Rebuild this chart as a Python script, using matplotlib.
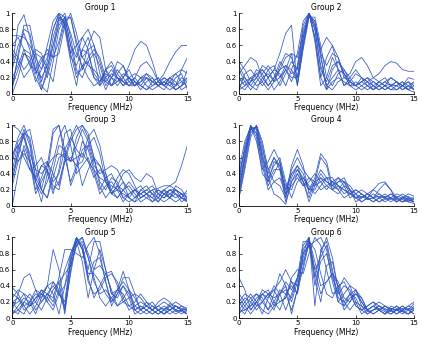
import numpy as np
import matplotlib
matplotlib.use('Agg')
import matplotlib.pyplot as plt

# frequency samples (MHz)
freq = np.arange(0, 15.01, 0.5)

# normalised spectra, one list per trace
group1 = [
    [0.35,0.85,0.98,0.7,0.3,0.05,0.3,0.7,0.95,0.9,0.5,0.2,0.35,0.4,0.2,0.1,0.2,0.3,0.2,0.1,0.15,0.2,0.1,0.05,0.1,0.15,0.1,0.05,0.1,0.2,0.15],
    [0.1,0.3,0.5,0.4,0.15,0.3,0.6,0.9,1.0,0.95,0.6,0.25,0.3,0.6,0.78,0.7,0.3,0.1,0.25,0.35,0.2,0.1,0.15,0.2,0.15,0.1,0.15,0.2,0.1,0.15,0.2],
    [0.05,0.5,0.85,0.85,0.5,0.15,0.4,0.8,0.98,0.85,0.45,0.35,0.55,0.5,0.25,0.15,0.3,0.35,0.2,0.1,0.2,0.25,0.2,0.1,0.05,0.1,0.2,0.15,0.1,0.3,0.45],
    [0.72,0.72,0.7,0.6,0.45,0.3,0.45,0.8,1.0,0.85,0.5,0.6,0.7,0.55,0.2,0.15,0.3,0.2,0.15,0.2,0.3,0.15,0.1,0.2,0.15,0.2,0.1,0.15,0.05,0.1,0.2],
    [0.5,0.4,0.2,0.3,0.5,0.45,0.2,0.5,0.9,1.0,0.7,0.3,0.2,0.4,0.5,0.35,0.1,0.2,0.3,0.2,0.1,0.2,0.35,0.4,0.3,0.15,0.25,0.4,0.52,0.6,0.6],
    [0.2,0.35,0.55,0.5,0.3,0.2,0.35,0.6,0.85,0.95,0.75,0.5,0.35,0.2,0.1,0.15,0.25,0.2,0.1,0.2,0.35,0.55,0.65,0.6,0.4,0.15,0.1,0.2,0.25,0.15,0.1],
    [0.1,0.45,0.8,0.75,0.4,0.1,0.02,0.4,0.8,0.95,0.6,0.45,0.7,0.8,0.6,0.25,0.05,0.2,0.4,0.35,0.15,0.1,0.2,0.25,0.15,0.1,0.15,0.1,0.05,0.1,0.15],
    [0.6,0.7,0.55,0.35,0.3,0.45,0.5,0.45,0.65,0.95,0.95,0.65,0.45,0.35,0.3,0.2,0.15,0.25,0.2,0.15,0.1,0.1,0.2,0.2,0.1,0.15,0.2,0.15,0.05,0.1,0.3],
    [0.3,0.6,0.75,0.55,0.25,0.4,0.55,0.45,0.5,0.85,1.0,0.75,0.45,0.55,0.6,0.4,0.15,0.1,0.2,0.15,0.1,0.15,0.1,0.05,0.15,0.2,0.1,0.2,0.15,0.05,0.1],
    [0.0,0.2,0.5,0.45,0.2,0.05,0.25,0.6,0.95,0.8,0.4,0.1,0.55,0.7,0.45,0.1,0.3,0.4,0.25,0.15,0.2,0.15,0.05,0.15,0.2,0.1,0.15,0.1,0.2,0.25,0.05],
    [0.55,0.45,0.3,0.4,0.55,0.5,0.3,0.15,0.6,0.9,0.95,0.6,0.3,0.45,0.55,0.45,0.2,0.1,0.15,0.25,0.2,0.1,0.15,0.25,0.2,0.1,0.05,0.15,0.25,0.3,0.25],
]

group2 = [
    [0.35,0.2,0.1,0.2,0.3,0.2,0.3,0.5,0.75,0.85,0.1,0.6,1.0,0.7,0.2,0.45,0.6,0.45,0.2,0.25,0.4,0.45,0.35,0.2,0.25,0.35,0.4,0.38,0.3,0.28,0.28],
    [0.25,0.35,0.45,0.4,0.2,0.1,0.2,0.3,0.35,0.25,0.3,0.8,0.98,0.8,0.35,0.1,0.2,0.3,0.25,0.15,0.1,0.15,0.2,0.15,0.1,0.05,0.1,0.15,0.1,0.05,0.1],
    [0.1,0.15,0.2,0.1,0.15,0.3,0.35,0.2,0.3,0.5,0.45,0.75,1.0,0.85,0.55,0.7,0.6,0.3,0.1,0.15,0.25,0.2,0.1,0.05,0.1,0.15,0.1,0.05,0.1,0.15,0.05],
    [0.05,0.1,0.2,0.25,0.15,0.05,0.15,0.35,0.5,0.45,0.2,0.65,0.98,0.9,0.5,0.05,0.3,0.4,0.3,0.15,0.1,0.15,0.1,0.05,0.15,0.2,0.1,0.1,0.15,0.05,0.15],
    [0.3,0.15,0.05,0.15,0.25,0.35,0.25,0.1,0.25,0.4,0.3,0.7,1.0,0.8,0.3,0.15,0.35,0.4,0.25,0.1,0.15,0.1,0.05,0.1,0.15,0.1,0.05,0.1,0.15,0.1,0.05],
    [0.15,0.2,0.1,0.05,0.2,0.25,0.15,0.3,0.45,0.5,0.1,0.55,0.95,0.95,0.6,0.2,0.1,0.25,0.3,0.2,0.1,0.05,0.1,0.15,0.1,0.05,0.1,0.15,0.1,0.2,0.18],
    [0.2,0.1,0.15,0.3,0.25,0.1,0.2,0.4,0.3,0.15,0.35,0.85,1.0,0.65,0.1,0.2,0.45,0.3,0.1,0.2,0.3,0.2,0.15,0.2,0.15,0.1,0.2,0.15,0.1,0.15,0.1],
    [0.05,0.25,0.3,0.2,0.1,0.2,0.3,0.25,0.1,0.3,0.5,0.9,1.0,0.7,0.2,0.05,0.15,0.2,0.15,0.1,0.05,0.1,0.15,0.1,0.05,0.1,0.05,0.05,0.1,0.05,0.02],
    [0.4,0.3,0.15,0.2,0.35,0.3,0.15,0.2,0.35,0.3,0.15,0.6,0.98,0.9,0.5,0.35,0.5,0.45,0.25,0.1,0.1,0.2,0.15,0.05,0.1,0.15,0.2,0.15,0.05,0.1,0.15],
    [0.1,0.05,0.15,0.25,0.3,0.2,0.05,0.15,0.3,0.2,0.2,0.7,1.0,0.85,0.45,0.1,0.05,0.15,0.2,0.15,0.1,0.15,0.2,0.1,0.05,0.1,0.12,0.1,0.05,0.1,0.05],
]

group3 = [
    [1.0,0.95,0.85,0.65,0.45,0.4,0.5,0.6,0.65,0.6,0.55,0.6,0.65,0.55,0.45,0.35,0.3,0.25,0.2,0.15,0.1,0.05,0.1,0.15,0.2,0.22,0.25,0.25,0.3,0.5,0.75],
    [0.6,0.85,1.0,0.8,0.35,0.2,0.5,0.95,1.0,0.6,0.3,0.5,0.8,0.7,0.45,0.2,0.35,0.4,0.25,0.1,0.15,0.2,0.15,0.1,0.05,0.1,0.2,0.15,0.1,0.15,0.1],
    [0.3,0.7,0.95,0.75,0.3,0.15,0.3,0.55,0.85,1.0,0.75,0.4,0.5,0.6,0.4,0.15,0.25,0.3,0.2,0.05,0.15,0.2,0.15,0.2,0.25,0.15,0.1,0.2,0.2,0.15,0.05],
    [0.55,0.8,0.9,0.6,0.2,0.35,0.55,0.4,0.25,0.6,0.85,1.0,0.85,0.55,0.35,0.45,0.4,0.2,0.1,0.2,0.3,0.2,0.1,0.15,0.1,0.05,0.15,0.2,0.15,0.1,0.08],
    [0.0,0.4,0.75,0.55,0.15,0.3,0.45,0.25,0.2,0.55,0.8,0.95,1.0,0.85,0.6,0.3,0.2,0.35,0.3,0.1,0.05,0.1,0.2,0.15,0.05,0.15,0.2,0.1,0.05,0.1,0.2],
    [0.45,0.75,0.85,0.55,0.3,0.5,0.55,0.3,0.4,0.7,0.85,0.7,0.6,0.85,0.95,0.75,0.4,0.15,0.2,0.3,0.2,0.1,0.15,0.2,0.15,0.1,0.2,0.25,0.2,0.1,0.05],
    [0.6,0.55,0.65,0.55,0.3,0.05,0.4,0.9,1.0,0.7,0.25,0.45,0.7,0.75,0.5,0.4,0.45,0.5,0.45,0.3,0.1,0.05,0.2,0.25,0.15,0.05,0.15,0.2,0.15,0.05,0.1],
    [0.35,0.6,0.9,0.85,0.45,0.2,0.1,0.35,0.6,0.65,0.55,0.85,1.0,0.9,0.6,0.25,0.1,0.2,0.35,0.45,0.4,0.25,0.1,0.15,0.2,0.1,0.05,0.1,0.15,0.1,0.05],
    [0.25,0.55,0.7,0.45,0.35,0.5,0.45,0.2,0.3,0.55,0.6,0.5,0.55,0.75,0.85,0.65,0.3,0.15,0.25,0.4,0.45,0.35,0.3,0.4,0.35,0.15,0.1,0.15,0.2,0.15,0.1],
    [0.65,0.75,0.6,0.45,0.5,0.6,0.4,0.15,0.45,0.9,0.95,0.6,0.25,0.45,0.6,0.5,0.3,0.15,0.25,0.2,0.1,0.2,0.25,0.15,0.1,0.2,0.15,0.1,0.25,0.2,0.1],
    [0.4,0.65,0.9,0.95,0.6,0.2,0.1,0.45,0.75,0.7,0.55,0.75,0.95,0.8,0.55,0.5,0.35,0.15,0.1,0.2,0.25,0.15,0.05,0.1,0.15,0.2,0.15,0.1,0.2,0.15,0.15],
]

group4 = [
    [0.2,0.6,0.95,0.98,0.7,0.45,0.6,0.5,0.2,0.4,0.45,0.3,0.2,0.3,0.35,0.25,0.2,0.25,0.2,0.15,0.1,0.1,0.15,0.1,0.05,0.08,0.1,0.08,0.05,0.07,0.05],
    [0.35,0.7,1.0,0.9,0.5,0.2,0.3,0.25,0.1,0.5,0.7,0.5,0.15,0.3,0.6,0.5,0.2,0.15,0.25,0.2,0.1,0.15,0.1,0.05,0.1,0.12,0.1,0.05,0.1,0.08,0.05],
    [0.1,0.5,0.9,1.0,0.75,0.35,0.15,0.1,0.02,0.3,0.45,0.35,0.2,0.35,0.65,0.55,0.25,0.2,0.3,0.25,0.15,0.1,0.15,0.2,0.15,0.1,0.05,0.1,0.15,0.1,0.05],
    [0.45,0.8,0.98,0.8,0.45,0.55,0.7,0.55,0.15,0.25,0.35,0.25,0.3,0.4,0.3,0.2,0.3,0.35,0.25,0.1,0.15,0.2,0.15,0.1,0.2,0.28,0.2,0.1,0.05,0.1,0.08],
    [0.25,0.65,0.97,0.95,0.6,0.3,0.45,0.45,0.2,0.45,0.6,0.45,0.35,0.25,0.3,0.35,0.3,0.2,0.1,0.15,0.2,0.15,0.08,0.1,0.15,0.1,0.08,0.12,0.1,0.05,0.1],
    [0.15,0.55,0.95,0.98,0.65,0.35,0.5,0.6,0.3,0.1,0.3,0.35,0.25,0.15,0.25,0.35,0.35,0.25,0.15,0.2,0.15,0.05,0.1,0.15,0.1,0.05,0.1,0.15,0.12,0.08,0.05],
    [0.3,0.75,1.0,0.85,0.4,0.3,0.55,0.5,0.1,0.35,0.5,0.4,0.2,0.2,0.35,0.3,0.25,0.3,0.3,0.2,0.1,0.05,0.1,0.2,0.28,0.3,0.2,0.05,0.1,0.12,0.05],
    [0.4,0.7,0.95,0.9,0.55,0.25,0.4,0.55,0.25,0.2,0.4,0.3,0.05,0.25,0.4,0.3,0.25,0.35,0.3,0.15,0.1,0.12,0.08,0.1,0.12,0.1,0.15,0.1,0.05,0.1,0.1],
    [0.2,0.6,0.98,0.95,0.6,0.4,0.6,0.45,0.05,0.3,0.4,0.25,0.35,0.3,0.2,0.25,0.3,0.25,0.2,0.15,0.2,0.15,0.1,0.05,0.1,0.15,0.1,0.05,0.1,0.15,0.12],
    [0.1,0.45,0.85,1.0,0.8,0.45,0.3,0.35,0.15,0.4,0.5,0.3,0.1,0.3,0.45,0.35,0.2,0.3,0.35,0.2,0.05,0.1,0.15,0.1,0.05,0.1,0.15,0.1,0.08,0.05,0.03],
]

group5 = [
    [0.38,0.3,0.15,0.2,0.3,0.25,0.4,0.85,0.6,0.1,0.7,1.0,0.85,0.45,0.3,0.35,0.5,0.55,0.45,0.25,0.1,0.15,0.2,0.15,0.1,0.05,0.1,0.15,0.1,0.08,0.05],
    [0.1,0.3,0.5,0.55,0.35,0.2,0.3,0.4,0.3,0.2,0.75,1.0,0.9,0.5,0.25,0.4,0.55,0.58,0.4,0.2,0.15,0.2,0.3,0.2,0.1,0.15,0.2,0.15,0.08,0.1,0.1],
    [0.2,0.1,0.05,0.2,0.35,0.3,0.2,0.35,0.45,0.05,0.6,0.95,0.9,0.6,0.95,0.95,0.6,0.3,0.25,0.4,0.3,0.1,0.15,0.1,0.05,0.1,0.15,0.1,0.05,0.1,0.12],
    [0.3,0.25,0.1,0.15,0.25,0.3,0.25,0.15,0.35,0.6,0.8,0.95,0.7,0.25,0.6,0.85,0.6,0.3,0.35,0.45,0.35,0.15,0.1,0.2,0.15,0.1,0.05,0.1,0.15,0.12,0.1],
    [0.15,0.2,0.3,0.25,0.1,0.2,0.3,0.25,0.5,0.85,0.85,0.8,0.75,0.9,1.0,0.8,0.45,0.2,0.3,0.4,0.25,0.05,0.1,0.15,0.1,0.05,0.1,0.18,0.15,0.1,0.05],
    [0.05,0.15,0.25,0.2,0.05,0.25,0.4,0.45,0.3,0.15,0.7,0.98,0.85,0.5,0.7,0.75,0.45,0.15,0.3,0.5,0.5,0.3,0.1,0.05,0.1,0.15,0.1,0.05,0.1,0.15,0.08],
    [0.25,0.35,0.3,0.15,0.2,0.35,0.3,0.2,0.45,0.55,0.65,0.9,1.0,0.75,0.45,0.3,0.35,0.25,0.15,0.2,0.25,0.3,0.25,0.15,0.1,0.2,0.25,0.2,0.1,0.05,0.1],
    [0.1,0.05,0.2,0.3,0.2,0.1,0.25,0.45,0.35,0.1,0.55,0.95,1.0,0.8,0.6,0.65,0.55,0.35,0.15,0.25,0.35,0.25,0.1,0.15,0.2,0.1,0.05,0.15,0.2,0.15,0.12],
    [0.2,0.25,0.15,0.05,0.15,0.3,0.4,0.3,0.05,0.4,0.8,1.0,0.85,0.55,0.55,0.45,0.3,0.2,0.35,0.58,0.35,0.1,0.05,0.1,0.15,0.1,0.05,0.1,0.15,0.1,0.05],
    [0.05,0.1,0.2,0.15,0.25,0.35,0.2,0.1,0.3,0.4,0.65,0.9,0.95,0.75,0.5,0.25,0.15,0.25,0.35,0.3,0.15,0.1,0.15,0.1,0.05,0.1,0.12,0.1,0.15,0.1,0.05],
]

group6 = [
    [0.5,0.35,0.1,0.2,0.3,0.25,0.35,0.45,0.6,0.45,0.3,0.8,1.0,0.6,0.3,0.45,0.55,0.45,0.25,0.2,0.3,0.25,0.1,0.05,0.1,0.15,0.1,0.05,0.1,0.15,0.2],
    [0.2,0.1,0.15,0.25,0.3,0.2,0.1,0.3,0.45,0.35,0.5,0.95,0.95,0.4,0.7,0.8,0.5,0.3,0.4,0.35,0.15,0.1,0.15,0.2,0.1,0.05,0.1,0.15,0.08,0.05,0.15],
    [0.1,0.2,0.3,0.2,0.05,0.25,0.4,0.3,0.1,0.3,0.5,0.7,0.9,0.95,1.0,0.85,0.45,0.2,0.3,0.4,0.35,0.15,0.05,0.1,0.15,0.1,0.05,0.1,0.12,0.1,0.05],
    [0.25,0.15,0.05,0.15,0.3,0.35,0.2,0.1,0.3,0.4,0.3,0.65,1.0,0.15,0.85,0.95,0.6,0.25,0.2,0.3,0.25,0.1,0.15,0.2,0.15,0.1,0.12,0.1,0.05,0.1,0.18],
    [0.15,0.25,0.2,0.1,0.2,0.3,0.25,0.3,0.4,0.2,0.45,0.85,0.98,0.7,0.4,0.45,0.55,0.4,0.2,0.1,0.2,0.15,0.1,0.15,0.1,0.05,0.15,0.12,0.08,0.12,0.1],
    [0.05,0.15,0.25,0.3,0.2,0.1,0.2,0.35,0.3,0.1,0.35,0.75,0.95,0.5,0.8,1.0,0.75,0.35,0.15,0.25,0.3,0.2,0.1,0.05,0.1,0.15,0.12,0.1,0.15,0.1,0.05],
    [0.3,0.2,0.1,0.2,0.35,0.3,0.15,0.2,0.25,0.5,0.6,0.55,0.8,1.0,0.9,0.6,0.3,0.35,0.5,0.4,0.2,0.05,0.1,0.15,0.2,0.15,0.1,0.05,0.1,0.15,0.12],
    [0.12,0.05,0.2,0.3,0.25,0.1,0.3,0.55,0.4,0.05,0.35,0.9,1.0,0.5,0.2,0.65,0.7,0.35,0.1,0.2,0.35,0.25,0.1,0.15,0.1,0.05,0.1,0.15,0.1,0.05,0.1],
    [0.2,0.3,0.25,0.15,0.2,0.3,0.35,0.2,0.25,0.45,0.4,0.6,0.95,0.85,0.55,0.3,0.25,0.4,0.45,0.3,0.15,0.1,0.05,0.1,0.15,0.12,0.08,0.1,0.15,0.1,0.12],
    [0.08,0.1,0.15,0.2,0.1,0.05,0.15,0.3,0.35,0.25,0.5,0.8,0.9,0.6,0.75,0.9,0.55,0.2,0.15,0.3,0.35,0.2,0.08,0.1,0.12,0.08,0.05,0.1,0.08,0.05,0.1],
]

groups = [group1, group2, group3, group4, group5, group6]
titles = ['Group 1', 'Group 2', 'Group 3', 'Group 4', 'Group 5', 'Group 6']
xticks = [0, 5, 10, 15]
yticks = [0, 0.2, 0.4, 0.6, 0.8, 1]
ytick_labels = ['0', '0.2', '0.4', '0.6', '0.8', '1']

fig = plt.figure(figsize=(4.23, 3.45), dpi=100)

# axes boxes in figure fractions (left, bottom, width, height)
lefts = [0.029, 0.565]
bottoms = [0.728, 0.403, 0.078]
w, h = 0.414, 0.234

for i, (curves, title) in enumerate(zip(groups, titles)):
    ax = fig.add_axes([lefts[i % 2], bottoms[i // 2], w, h])
    for c in curves:
        ax.plot(freq, c, color='#2f55c2', lw=0.55)
    ax.set_xlim(0, 15)
    ax.set_ylim(0, 1)
    ax.set_xticks(xticks)
    ax.set_yticks(yticks)
    ax.set_yticklabels(ytick_labels)
    ax.tick_params(direction='in', length=2, width=0.5, labelsize=5, pad=1.5)
    ax.spines['top'].set_visible(False)
    ax.spines['right'].set_visible(False)
    ax.spines['left'].set_linewidth(0.6)
    ax.spines['bottom'].set_linewidth(0.6)
    ax.set_title(title, fontsize=5.5, pad=2)
    ax.set_xlabel('Frequency (MHz)', fontsize=5.5, labelpad=1)

fig.savefig('out.png', dpi=100)
